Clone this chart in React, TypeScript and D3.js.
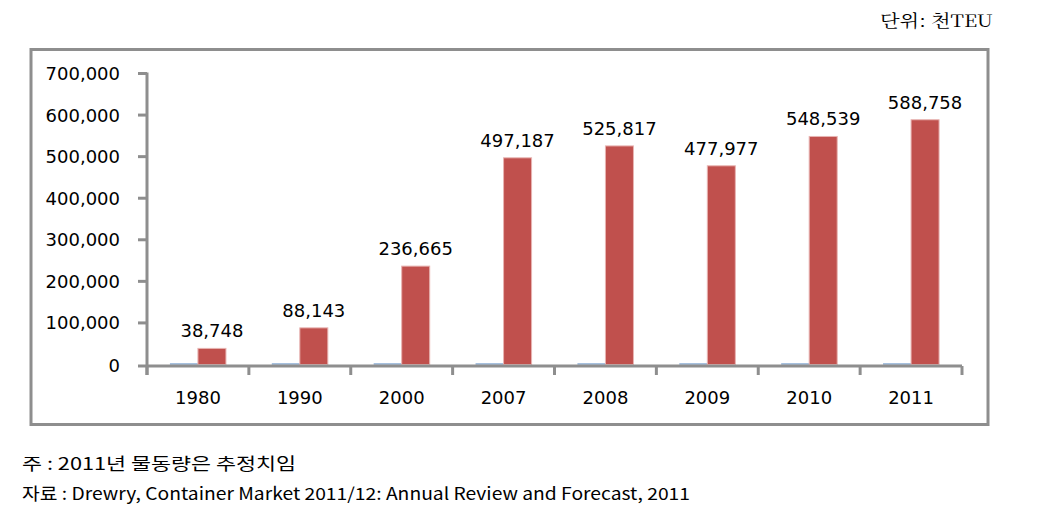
import React from "react";
import * as d3 from "d3";

const years = ["1980", "1990", "2000", "2007", "2008", "2009", "2010", "2011"];
const seriesYear = [1980, 1990, 2000, 2007, 2008, 2009, 2010, 2011];
const volumes = [38748, 88143, 236665, 497187, 525817, 477977, 548539, 588758];
const yTicks = [0, 100000, 200000, 300000, 400000, 500000, 600000, 700000];
const unitLabel = "단위: 천TEU";
const note1 = "주 : 2011년 물동량은 추정치임";
const note2 = "자료 : Drewry, Container Market 2011/12: Annual Review and Forecast, 2011";

export default function App() {
  const W = 1061, H = 509;
  const x0 = 147, x1 = 962, yTop = 73.5, yBot = 364.5, axisY = 366;
  const x = d3.scaleBand().domain(years).range([x0, x1]).paddingInner(0.45).paddingOuter(0.225);
  const inner = d3.scaleBand().domain(["a", "b"]).range([0, x.bandwidth()]);
  const y = d3.scaleLinear().domain([0, 700000]).range([yBot, yTop]);
  const fmt = d3.format(",");
  const gray = "#8e8e8e";
  const font = "'DejaVu Sans', Verdana, sans-serif";
  const step = (x1 - x0) / years.length;
  const hBlue = (v: number) => Math.max(1, yBot - y(v));
  return (
    <div style={{ position: "fixed", left: 0, top: 0 }}>
      <svg width={W} height={H} style={{ display: "block", background: "#fff" }}>
        <text x={993} y={27} textAnchor="end" fontFamily="'Noto Serif CJK KR', 'Noto Sans CJK KR', serif" fontSize={17} textLength={113} lengthAdjust="spacingAndGlyphs">{unitLabel}</text>
        <rect x={31} y={49.5} width={957} height={375} fill="#fff" stroke={gray} strokeWidth={3} />
        {/* y axis */}
        <line x1={x0} x2={x0} y1={yTop - 1} y2={axisY + 9} stroke={gray} strokeWidth={3} />
        {yTicks.map((t) => {
          const ty = t === 0 ? axisY : y(t);
          return (
            <g key={t}>
              <line x1={x0 - 9} x2={x0} y1={ty} y2={ty} stroke={gray} strokeWidth={3} />
              <text x={120} y={ty} dy="0.36em" textAnchor="end" fontFamily={font} fontSize={18}>{fmt(t)}</text>
            </g>
          );
        })}
        {/* bars */}
        {years.map((c, i) => (
          <g key={c}>
            <rect x={(x(c) as number) + (inner("a") as number)} y={yBot - hBlue(seriesYear[i])} width={inner.bandwidth()} height={hBlue(seriesYear[i])} fill="#4F81BD" />
            <rect x={(x(c) as number) + (inner("b") as number)} y={y(volumes[i])} width={inner.bandwidth()} height={yBot - y(volumes[i])} fill="#C0504D" stroke="#e8b4b2" strokeWidth={1} />
            <text x={(x(c) as number) + (inner("b") as number) + inner.bandwidth() / 2} y={y(volumes[i]) - 11} textAnchor="middle" fontFamily={font} fontSize={18}>{fmt(volumes[i])}</text>
            <text x={(x(c) as number) + x.bandwidth() / 2} y={404} textAnchor="middle" fontFamily={font} fontSize={18}>{c}</text>
          </g>
        ))}
        {/* x axis */}
        <line x1={x0} x2={x1} y1={axisY} y2={axisY} stroke={gray} strokeWidth={3} />
        {d3.range(years.length + 1).map((k) => (
          <line key={k} x1={x0 + k * step} x2={x0 + k * step} y1={axisY} y2={axisY + 9} stroke={gray} strokeWidth={3} />
        ))}
        <text x={22} y={470} fontFamily="'Noto Sans CJK KR', sans-serif" fontSize={17} textLength={274} lengthAdjust="spacingAndGlyphs">{note1}</text>
        <text x={22} y={500} fontFamily="'Noto Sans CJK KR', sans-serif" fontSize={17} textLength={668} lengthAdjust="spacingAndGlyphs">{note2}</text>
      </svg>
    </div>
  );
}
